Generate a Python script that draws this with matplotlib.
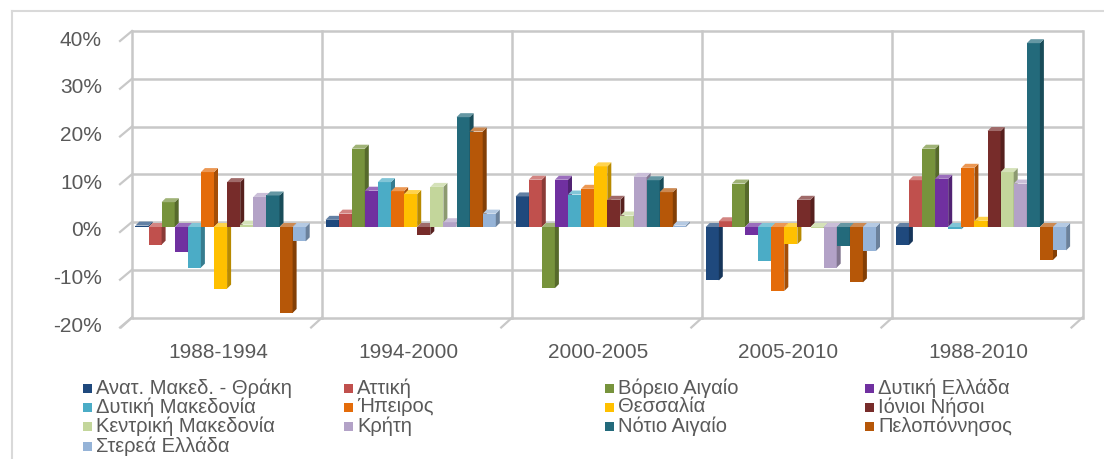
import matplotlib
matplotlib.use("Agg")
import matplotlib.pyplot as plt
from matplotlib.patches import Polygon, Rectangle
from matplotlib.lines import Line2D
import numpy as np

# ---------------- data ----------------
categories = ["1988-1994", "1994-2000", "2000-2005", "2005-2010", "1988-2010"]
series_names = ["Ανατ. Μακεδ. - Θράκη", "Αττική", "Βόρειο Αιγαίο", "Δυτική Ελλάδα",
                "Δυτική Μακεδονία", "Ήπειρος", "Θεσσαλία", "Ιόνιοι Νήσοι",
                "Κεντρική Μακεδονία", "Κρήτη", "Νότιο Αιγαίο", "Πελοπόννησος",
                "Στερεά Ελλάδα"]
anat_maked_thraki = [0.3, 1.5, 6.4, -11.2, -3.8]
attiki = [-3.7, 2.8, 9.9, 1.2, 9.8]
voreio_aigaio = [5.2, 16.4, -12.8, 9.1, 16.4]
dytiki_ellada = [-5.3, 7.6, 9.9, -1.7, 10.1]
dytiki_makedonia = [-8.5, 9.4, 6.8, -7.1, -0.5]
ipeiros = [11.5, 7.5, 8.0, -13.4, 12.4]
thessalia = [-12.9, 6.9, 12.7, -3.6, 1.3]
ionioi_nisoi = [9.4, -1.7, 5.7, 5.7, 20.1]
kentriki_makedonia = [0.5, 8.4, 2.4, -0.2, 11.5]
kriti = [6.3, 1.0, 10.5, -8.5, 9.1]
notio_aigaio = [6.6, 23.0, 9.8, -4.0, 38.5]
peloponnisos = [-18.0, 20.0, 7.3, -11.6, -6.9]
sterea_ellada = [-3.0, 2.8, 0.3, -5.0, -4.9]
y_ticks = [-20, -10, 0, 10, 20, 30, 40]
y_tick_labels = ["-20%", "-10%", "0%", "10%", "20%", "30%", "40%"]

values = [anat_maked_thraki, attiki, voreio_aigaio, dytiki_ellada, dytiki_makedonia,
          ipeiros, thessalia, ionioi_nisoi, kentriki_makedonia, kriti, notio_aigaio,
          peloponnisos, sterea_ellada]
colors = ["#1F497D", "#C0504D", "#77933C", "#7030A0", "#4BACC6", "#E46C0A", "#FFC000",
          "#772C2A", "#C3D69B", "#B3A2C7", "#236A7B", "#B65708", "#95B3D7"]

# ---------------- figure ----------------
W, H = 1104, 459
fig = plt.figure(figsize=(W / 100, H / 100), dpi=100)
fig.patch.set_facecolor("white")
plt.rcParams["font.family"] = ["Liberation Sans", "DejaVu Sans"]

wall_l, wall_r, wall_t, wall_b = 132.0, 1082.5, 31.0, 317.5
ax = fig.add_axes([wall_l / W, 1 - wall_b / H, (wall_r - wall_l) / W, (wall_b - wall_t) / H])
ax.set_xlim(-0.5, len(categories) - 0.5)
ax.set_ylim(y_ticks[0], y_ticks[-1])
ax.axis("off")

sx = (wall_r - wall_l) / len(categories)          # px per category unit
sy = (wall_b - wall_t) / (y_ticks[-1] - y_ticks[0])  # px per percent

grid_c = "#C8C8C8"
txt_c = "#595959"
# back wall gridlines
for t in y_ticks:
    ax.plot([-0.5, len(categories) - 0.5], [t, t], color=grid_c, lw=1.8, zorder=1,
            clip_on=False, solid_capstyle="butt")
    ax.plot([-0.5, -0.5 - 12 / sx], [t, t - 10 / sy], color=grid_c, lw=1.6, zorder=1,
            clip_on=False)
for k in range(len(categories) + 1):
    xb = -0.5 + k
    ax.plot([xb, xb], [y_ticks[0], y_ticks[-1]], color=grid_c, lw=1.8, zorder=1,
            clip_on=False)
    ax.plot([xb, xb - 11 / sx], [y_ticks[0], y_ticks[0] - 10 / sy], color=grid_c,
            lw=1.6, zorder=1, clip_on=False)

# y labels
for t, lab in zip(y_ticks, y_tick_labels):
    ax.text(-0.5 - 30 / sx, t - 9 / sy, lab, ha="right", va="center", fontsize=15,
            color=txt_c, clip_on=False)
# category labels
for i, c in enumerate(categories):
    ax.text(i - 9 / sx, y_ticks[0] - 35 / sy, c, ha="center", va="center", fontsize=15,
            color=txt_c, clip_on=False)

# ---------------- 3D-like bars ----------------
n = len(values)
bw = 13.1 / sx
shift = -6.5 / sx
base = -5.0 / sy
ddx = 4.0 / sx
ddy = 4.0 / sy
xc = np.arange(len(categories))


def shade(c, f):
    r = np.array(matplotlib.colors.to_rgb(c))
    if f < 1:
        return tuple(r * f)
    return tuple(r + (1 - r) * (f - 1))


for i, (vals, col) in enumerate(zip(values, colors)):
    z = 3 + i * 0.1
    xs = xc + (i - (n - 1) / 2) * bw + shift
    ax.bar(xs, vals, bw, bottom=base, color=col, zorder=z, linewidth=0)
    for x, v in zip(xs, vals):
        xr = x + bw / 2
        xl = x - bw / 2
        top = base + v
        side = Polygon([(xr, base), (xr + ddx, base + ddy), (xr + ddx, top + ddy), (xr, top)],
                       closed=True, facecolor=shade(col, 0.72), edgecolor="none", zorder=z)
        ax.add_patch(side)
        ty = top if v >= 0 else base
        tface = Polygon([(xl, ty), (xr, ty), (xr + ddx, ty + ddy), (xl + ddx, ty + ddy)],
                        closed=True, facecolor=shade(col, 1.3), edgecolor="none", zorder=z)
        ax.add_patch(tface)

# ---------------- legend ----------------
col_x = [83, 344, 605, 865]
row_y = [388, 407, 426, 446]
for i, (name, col) in enumerate(zip(series_names, colors)):
    r, cc = divmod(i, 4)
    x0, y0 = col_x[cc], row_y[r]
    fig.patches.append(Rectangle((x0 / W, 1 - (y0 + 4.5) / H), 9 / W, 9 / H,
                                 transform=fig.transFigure, facecolor=col, edgecolor="none"))
    fig.text((x0 + 13) / W, 1 - y0 / H, name, ha="left", va="center", fontsize=14.5,
             color=txt_c)

# chart border (left and top visible)
fig.add_artist(Line2D([12 / W, 12 / W], [0, 1 - 11 / H], color="#D9D9D9", lw=1.5,
                      transform=fig.transFigure))
fig.add_artist(Line2D([12 / W, 1], [1 - 11 / H, 1 - 11 / H], color="#D9D9D9", lw=1.5,
                      transform=fig.transFigure))

fig.savefig("out.png", dpi=100)
